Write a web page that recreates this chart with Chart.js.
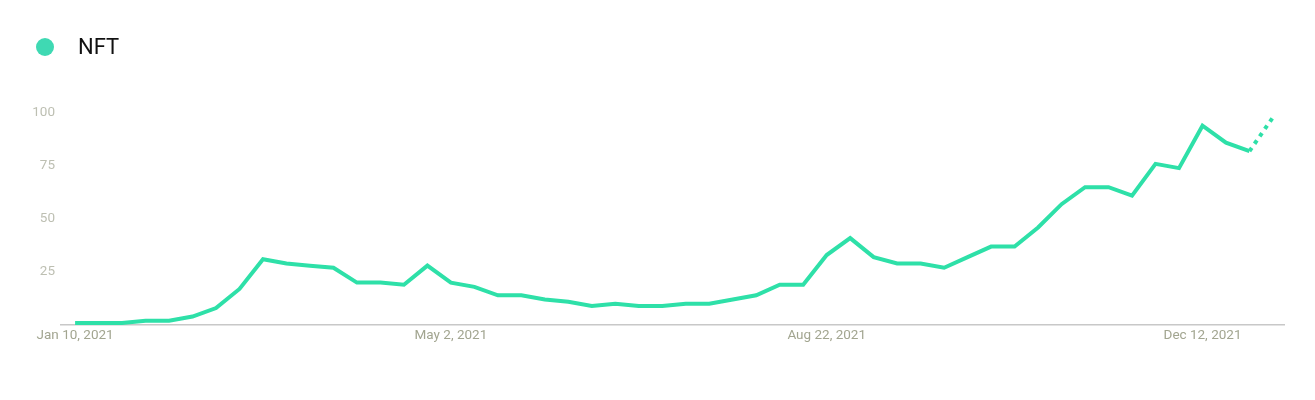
<!DOCTYPE html>
<html>
<head>
<meta charset="utf-8">
<script src="https://cdn.jsdelivr.net/npm/chart.js@4"></script>
<style>
    html, body { margin: 0; padding: 0; background: #fff; }
    #wrap { position: relative; width: 1315px; height: 400px; }
    #legend { position: absolute; left: 36px; top: 34px; font-family: Roboto, sans-serif; font-size: 22px; color: #111; display: flex; align-items: center; }
    #legend .dot { width: 18px; height: 18px; border-radius: 50%; background: #3fd9b3; margin-right: 24px; }
    canvas { position: absolute; left: 0; top: 0; }
</style>
</head>
<body>
<div id="wrap">
    <canvas id="chart" width="1315" height="400"></canvas>
    <div id="legend"><span class="dot"></span><span id="legendLabel"></span></div>
</div>
<script>
const seriesName = 'NFT';
// weekly interest, starting week of Jan 10, 2021 (last week is partial)
const interest = [1, 1, 1, 2, 2, 4, 8, 17, 31, 29, 28, 27, 20, 20, 19, 28,
    20, 18, 14, 14, 12, 11, 9, 10, 9, 9, 10, 10, 12, 14, 19, 19,
    33, 41, 32, 29, 29, 27, 32, 37, 37, 46, 57, 65, 65, 61, 76, 74,
    94, 86, 82, 98];
const tickWeeks = [0, 16, 32, 48];
const tickLabels = ['Jan 10, 2021', 'May 2, 2021', 'Aug 22, 2021', 'Dec 12, 2021'];
const yTicks = [0, 25, 50, 75, 100];

document.getElementById('legendLabel').textContent = seriesName;

let ctx = document.getElementById('chart').getContext('2d');
let lastIdx = interest.length - 1;

new Chart(ctx, {
    type: 'line',
    data: {
        datasets: [{
            label: seriesName,
            data: interest.map((v, i) => ({x: i, y: v})),
            borderColor: '#2ee0a8',
            borderWidth: 4,
            pointRadius: 0,
            tension: 0,
            fill: false,
            segment: {
                borderDash: (c) => c.p1DataIndex === lastIdx ? [4, 5] : undefined
            }
        }]
    },
    options: {
        responsive: false,
        animation: false,
        layout: {
            padding: {top: 113, right: 31, left: 0, bottom: 0}
        },
        plugins: {
            legend: {display: false},
            tooltip: {enabled: false}
        },
        scales: {
            x: {
                type: 'linear',
                min: -0.6,
                max: 51.47,
                afterBuildTicks: (scale) => {
                    scale.ticks = tickWeeks.map(v => ({value: v}));
                },
                afterFit: (scale) => { scale.height = 75; },
                grid: {display: false, drawTicks: false},
                border: {display: true, color: '#c8c8c8', width: 1.5},
                ticks: {
                    autoSkip: false,
                    maxRotation: 0,
                    padding: 3,
                    color: '#a2a590',
                    font: {family: 'Roboto', size: 13.5},
                    callback: (v) => tickLabels[tickWeeks.indexOf(v)] || ''
                }
            },
            y: {
                min: 0,
                max: 100,
                afterBuildTicks: (scale) => {
                    scale.ticks = yTicks.map(v => ({value: v}));
                },
                afterFit: (scale) => { scale.width = 61; },
                grid: {display: false, drawTicks: false},
                border: {display: false},
                ticks: {
                    padding: 6,
                    color: '#bdbfb2',
                    font: {family: 'Roboto', size: 13.5},
                    callback: (v) => v === 0 ? '' : v
                }
            }
        }
    }
});
</script>
</body>
</html>
